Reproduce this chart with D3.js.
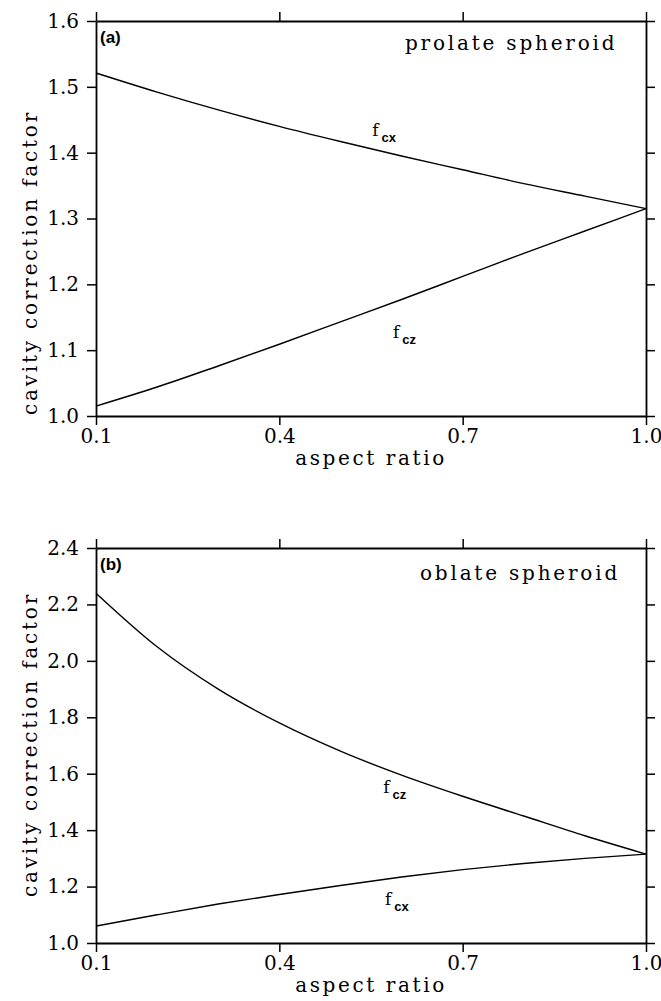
<!DOCTYPE html>
<html><head><meta charset="utf-8">
<script src="https://cdn.jsdelivr.net/npm/d3@7"></script>
<style>html,body{margin:0;padding:0;background:#fff;}</style>
</head><body>
<script>
// ---- data ----
const aspect = [0.1,0.2,0.3,0.4,0.5,0.6,0.7,0.8,0.9,1.0];
const prolateFcx = [1.521,1.492,1.465,1.440,1.417,1.395,1.374,1.353,1.334,1.315];
const prolateFcz = [1.015,1.044,1.076,1.109,1.143,1.177,1.212,1.247,1.281,1.315];
const oblateFcz = [2.24,2.05,1.90,1.78,1.68,1.595,1.52,1.45,1.38,1.315];
const oblateFcx = [1.060,1.100,1.138,1.172,1.204,1.234,1.260,1.282,1.300,1.315];
const xTicks = [0.1,0.4,0.7,1.0];
const yTicksA = [1.0,1.1,1.2,1.3,1.4,1.5,1.6];
const yTicksB = [1.0,1.2,1.4,1.6,1.8,2.0,2.2,2.4];

const W=661,H=1001;
const SERIF="'DejaVu Serif', serif";
const SANS="'Liberation Sans', Arial, sans-serif";
const svg=d3.select("body").append("svg").attr("width",W).attr("height",H);
svg.append("rect").attr("width",W).attr("height",H).attr("fill","#fff");

function panel(o){
  const x=d3.scaleLinear().domain([0.1,1.0]).range([96,646]);
  const y=d3.scaleLinear().domain(o.ydom).range([o.bottom,o.top]);
  const g=svg.append("g");
  const fmt=d3.format(".1f");
  function style(ax){
    ax.selectAll("path,line").attr("stroke","#000").attr("stroke-width",1.5);
    ax.selectAll("text").attr("font-family",SERIF).attr("font-size",20).attr("fill","#000");
  }
  g.append("g").attr("transform",`translate(${x.range()[0]},0)`)
    .call(d3.axisLeft(y).tickValues(o.yTicks).tickSize(9).tickSizeOuter(0).tickPadding(8).tickFormat(fmt)).call(style);
  g.append("g").attr("transform",`translate(${x.range()[1]},0)`)
    .call(d3.axisRight(y).tickValues(o.yTicks).tickSize(9).tickSizeOuter(0).tickFormat("")).call(style);
  g.append("g").attr("transform",`translate(0,${o.top})`)
    .call(d3.axisTop(x).tickValues(xTicks).tickSize(9).tickSizeOuter(0).tickFormat("")).call(style);
  g.append("g").attr("transform",`translate(0,${o.bottom})`)
    .call(d3.axisBottom(x).tickValues(xTicks).tickSize(9).tickSizeOuter(0).tickPadding(4).tickFormat(fmt)).call(style);
  g.selectAll(".domain").attr("stroke-width",1.8);

  const line=d3.line().x((d,i)=>x(aspect[i])).y(d=>y(d)).curve(d3.curveMonotoneX);
  o.series.forEach(s=>{
    g.append("path").attr("d",line(s.values)).attr("fill","none").attr("stroke","#000").attr("stroke-width",1.4);
    const t=g.append("text").attr("x",x(s.lx)).attr("y",y(s.ly)).attr("fill","#000");
    t.append("tspan").attr("font-family",SERIF).attr("font-size",17).text("f");
    t.append("tspan").attr("font-family",SANS).attr("font-weight","bold")
      .attr("font-size",13).attr("dx",3).attr("dy",6).text(s.sub);
  });
  // axis titles
  g.append("text").attr("x",(x.range()[0]+x.range()[1])/2).attr("y",o.bottom+49)
    .attr("text-anchor","middle").attr("font-family",SERIF).attr("font-size",20)
    .attr("letter-spacing","2.6px").attr("fill","#000").text("aspect ratio");
  g.append("text").attr("transform",`translate(37,${o.labelStart}) rotate(-90)`)
    .attr("font-family",SERIF).attr("font-size",20).attr("letter-spacing","2.8px").attr("fill","#000")
    .text("cavity correction factor");
  g.append("text").attr("x",100).attr("y",o.top+22).attr("font-family",SANS)
    .attr("font-weight","bold").attr("font-size",17).attr("fill","#000").text(o.tag);
  g.append("text").attr("x",o.titleX).attr("y",o.top+o.titleDy).attr("font-family",SERIF).attr("font-size",20)
    .attr("letter-spacing","2.8px").attr("fill","#000").text(o.title);
}

panel({top:21,bottom:416,ydom:[1.0,1.6],yTicks:yTicksA,labelStart:415,tag:"(a)",title:"prolate spheroid",titleX:405,titleDy:29,
  series:[{values:prolateFcx,sub:"cx",lx:0.552,ly:1.426},{values:prolateFcz,sub:"cz",lx:0.586,ly:1.119}]});
panel({top:548,bottom:943,ydom:[1.0,2.4],yTicks:yTicksB,labelStart:897,tag:"(b)",title:"oblate spheroid",titleX:420,titleDy:32,
  series:[{values:oblateFcz,sub:"cz",lx:0.57,ly:1.53},{values:oblateFcx,sub:"cx",lx:0.573,ly:1.134}]});
</script>
</body></html>
